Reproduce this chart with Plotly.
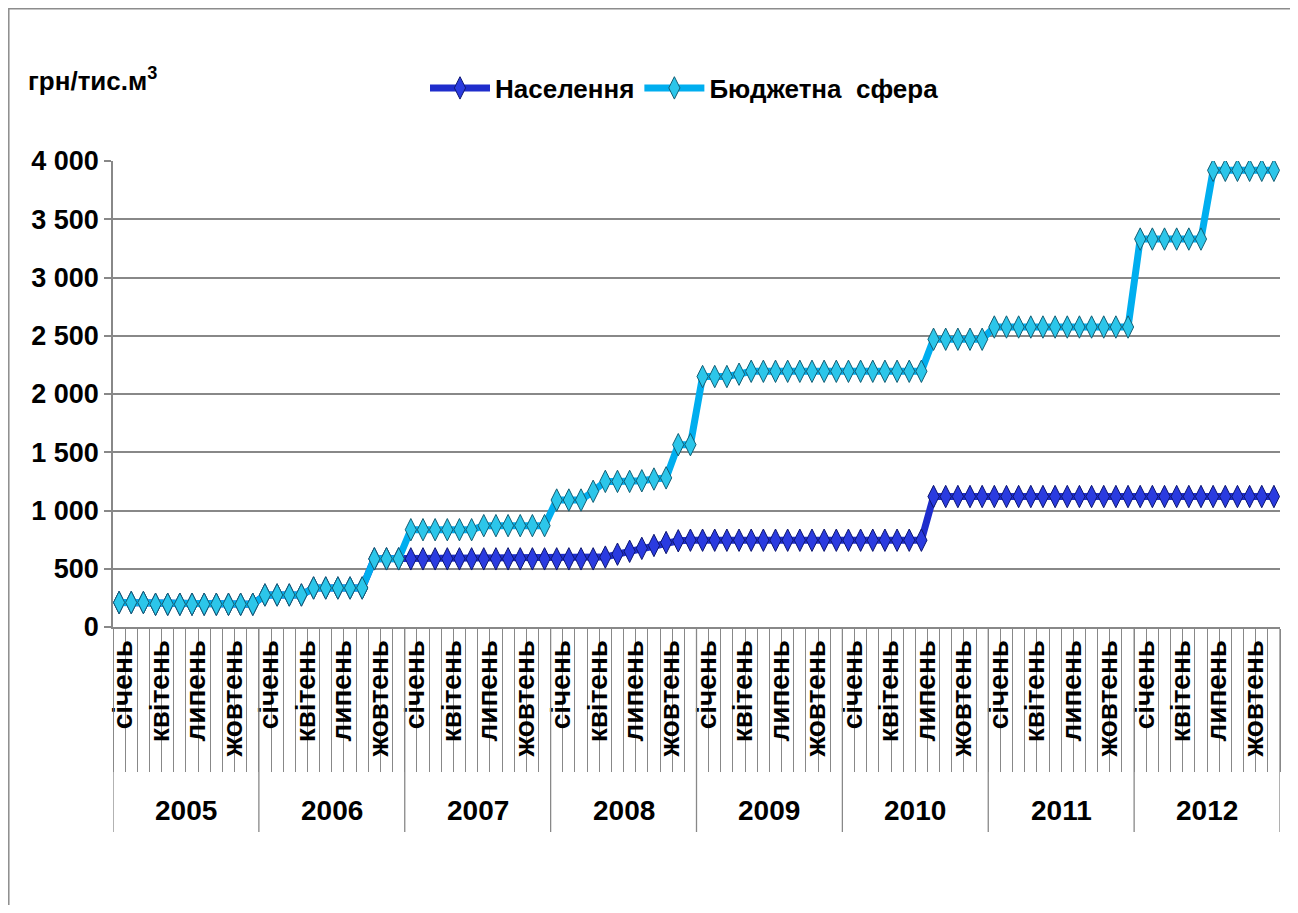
import plotly.graph_objects as go

years = ["2005", "2006", "2007", "2008", "2009", "2010", "2011", "2012"]
months = ["січень", "лютий", "березень", "квітень", "травень", "червень",
          "липень", "серпень", "вересень", "жовтень", "листопад", "грудень"]
shown_months = ["січень", "квітень", "липень", "жовтень"]

naselennya = (
    [210, 210, 210, 195, 195, 195, 195, 195, 195, 195, 195, 195] +
    [275, 275, 275, 275, 335, 335, 335, 335, 335, 585, 585, 585] +
    [585, 585, 585, 585, 585, 585, 585, 585, 585, 585, 585, 585] +
    [585, 585, 585, 585, 600, 625, 650, 675, 700, 725, 740, 745] +
    [745, 745, 745, 745, 745, 745, 745, 745, 745, 745, 745, 745] +
    [745, 745, 745, 745, 745, 745, 745, 1120, 1120, 1120, 1120, 1120] +
    [1120, 1120, 1120, 1120, 1120, 1120, 1120, 1120, 1120, 1120, 1120, 1120] +
    [1120, 1120, 1120, 1120, 1120, 1120, 1120, 1120, 1120, 1120, 1120, 1120]
)
budget = (
    [210, 210, 210, 195, 195, 195, 195, 195, 195, 195, 195, 195] +
    [275, 275, 275, 275, 335, 335, 335, 335, 335, 585, 585, 585] +
    [835, 835, 835, 835, 835, 835, 870, 870, 870, 870, 870, 870] +
    [1090, 1090, 1090, 1165, 1250, 1250, 1250, 1255, 1270, 1280, 1565, 1565] +
    [2150, 2150, 2150, 2170, 2195, 2195, 2195, 2195, 2195, 2195, 2195, 2195] +
    [2195, 2195, 2195, 2195, 2195, 2195, 2195, 2470, 2470, 2470, 2470, 2470] +
    [2575, 2575, 2575, 2575, 2575, 2575, 2575, 2575, 2575, 2575, 2575, 2575] +
    [3330, 3330, 3330, 3330, 3330, 3330, 3920, 3920, 3920, 3920, 3920, 3920]
)

n = len(years) * len(months)
x = list(range(n))

FONT = "Liberation Sans, Arial, sans-serif"
GRID = "#888888"

# figure geometry (page body adds an 8px offset)
OFF = 8
W, H = 1290, 897
L, R, T, B = 105, 18, 153, 278
pw, ph = W - L - R, H - T - B


def px_x(p):
    return (p - OFF - L) / pw


def px_y(p):
    return (H - B - (p - OFF)) / ph


fig = go.Figure()
fig.add_trace(go.Scatter(
    x=x, y=naselennya, name="Населення", mode="lines+markers",
    line=dict(color="#1f2dcc", width=7),
    marker=dict(symbol="diamond-tall", size=16, color="#2a3be0",
                line=dict(color="#0d1670", width=1)),
))
fig.add_trace(go.Scatter(
    x=x, y=budget, name="Бюджетна\u00a0 сфера", mode="lines+markers",
    line=dict(color="#00aeef", width=7),
    marker=dict(symbol="diamond-tall", size=16, color="#2cc6ea",
                line=dict(color="#135e74", width=1)),
))

tickvals, ticktext = [], []
for yi, yr in enumerate(years):
    for mi, m in enumerate(months):
        if m in shown_months:
            tickvals.append(yi * len(months) + mi + 0.35)
            ticktext.append(m)

shapes = []
annotations = []
for yi in range(len(years) + 1):
    b = yi * len(months) - 0.5
    shapes.append(dict(type="line", xref="x", yref="paper", x0=b, x1=b,
                       y0=0, y1=px_y(832), line=dict(color=GRID, width=1.3)))
for yi, yr in enumerate(years):
    annotations.append(dict(xref="x", yref="paper", x=yi * len(months) + 5.5,
                            y=px_y(810), text=yr, showarrow=False,
                            font=dict(family=FONT, size=28, color="black", weight="bold"),
                            xanchor="center", yanchor="middle"))

# outer chart border
shapes.append(dict(type="rect", xref="paper", yref="paper",
                   x0=px_x(8.8), x1=px_x(1291), y0=px_y(960), y1=px_y(8.8),
                   line=dict(color="#8c8c8c", width=1.5), fillcolor="rgba(0,0,0,0)",
                   layer="below"))

annotations.append(dict(xref="paper", yref="paper", x=px_x(26), y=px_y(80),
                        text="грн/тис.м<sup>3</sup>", showarrow=False,
                        font=dict(family=FONT, size=26, color="black", weight="bold"),
                        xanchor="left", yanchor="middle"))

fig.update_layout(
    width=W, height=H,
    margin=dict(l=L, r=R, t=T, b=B),
    paper_bgcolor="white", plot_bgcolor="white",
    separators=", ",
    showlegend=True,
    legend=dict(orientation="h", x=px_x(425), y=px_y(88), xanchor="left", yanchor="middle",
                font=dict(family=FONT, size=26, color="black", weight="bold"),
                itemwidth=60, bgcolor="rgba(0,0,0,0)"),
    shapes=shapes,
    annotations=annotations,
    xaxis=dict(
        range=[-0.5, n - 0.5], showgrid=False, zeroline=False,
        showline=True, linecolor=GRID, linewidth=1.5,
        tickmode="array", tickvals=tickvals, ticktext=ticktext,
        tickangle=-90, ticks="",
        tickfont=dict(family=FONT, size=28, color="black", weight="bold"),
        minor=dict(ticks="outside", tick0=-0.5, dtick=1, ticklen=143,
                   tickcolor=GRID, tickwidth=1, showgrid=False),
    ),
    yaxis=dict(
        range=[0, 4000], dtick=500, tickformat=",d",
        showgrid=True, gridcolor=GRID, gridwidth=1.5,
        zeroline=False, showline=True, linecolor=GRID, linewidth=1.5,
        ticks="outside", ticklen=7, tickcolor=GRID, tickwidth=1.5,
        tickfont=dict(family=FONT, size=27, color="black", weight="bold"),
    ),
)

fig.write_html("out.html")
